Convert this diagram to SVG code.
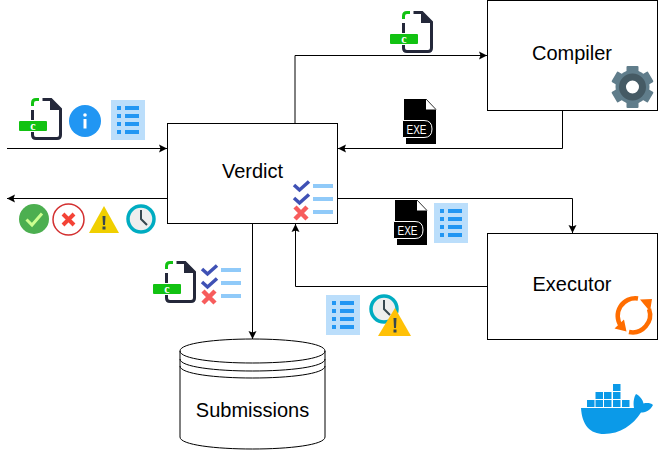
<svg xmlns="http://www.w3.org/2000/svg" width="659" height="450" viewBox="0 0 659 450">
<style>
text{font-family:"Liberation Sans",Arial,sans-serif}
.box{fill:#fff;stroke:#000;stroke-width:1}
.lbl{font-size:20px;text-anchor:middle;fill:#000}
.conn{fill:none;stroke:#000;stroke-width:1;marker-end:url(#arr)}
.cyl{fill:none;stroke:#000;stroke-width:1}
</style>
<defs>
<marker id="arr" markerUnits="userSpaceOnUse" markerWidth="9" markerHeight="9" refX="8" refY="4" orient="auto" overflow="visible"><path d="M8 4L0 0L1.500 4L0 8Z" fill="#000"/></marker>
<g id="cfile">
<path d="M13.500 8V5Q13.500 1.500 17 1.500H20" fill="none" stroke="#12c212" stroke-width="3"/>
<path d="M23.500 1.500H32L41.500 11V37Q41.500 40.500 38 40.500H17Q13.500 40.500 13.500 37V34M13.500 12V22" fill="none" stroke="#24283a" stroke-width="3"/>
<path d="M31 1L42 12H31Z" fill="#24283a"/>
<rect x="0" y="23" width="28" height="10" rx="1" fill="#12c212"/>
<text x="14" y="31.500" font-size="12" font-weight="bold" text-anchor="middle" fill="#fff" style="font-family:'Liberation Serif',serif">c</text>
</g>
<g id="exe">
<path d="M0 0H22V10.500H32V45H2V38H0Z" fill="#000"/>
<path d="M22 0L32 10.500" fill="none" stroke="#333" stroke-width="1"/>
<path d="M-1.500 21.500H20Q28 21.500 28 30Q28 38.500 20 38.500H-1.500Z" fill="#000" stroke="#fff" stroke-width="1"/>
<text x="12.500" y="34.500" font-size="12" text-anchor="middle" fill="#fff" textLength="20" lengthAdjust="spacingAndGlyphs">EXE</text>
</g>
<g id="list">
<rect width="34" height="40" fill="#bbdefb"/>
<path d="M6 6h4v4h-4zM14 6h14v4h-14zM6 14h4v4h-4zM14 14h14v4h-14zM6 22h4v4h-4zM14 22h14v4h-14zM6 30h4v4h-4zM14 30h14v4h-14z" fill="#2196f3"/>
</g>
<g id="verdicts">
<path d="M1 5L6.500 10L16 1.500M1 18L6.500 23L16 14.500" fill="none" stroke="#3f51b5" stroke-width="3.500"/>
<path d="M2 27L14 39M14 27L2 39" fill="none" stroke="#f75c5c" stroke-width="4.500"/>
<path d="M20 4h20v4h-20zM20 17h20v4h-20zM20 30h20v4h-20z" fill="#90caf9"/>
</g>
<g id="clock">
<circle r="13" fill="#eee" stroke="#00acc1" stroke-width="3.500"/>
<path d="M0 -9V0L6 6" fill="none" stroke="#37474f" stroke-width="2"/>
</g>
</defs>

<g id="connectors">
<path class="conn" d="M7 148.500H167"/>
<path class="conn" d="M167 198.500H7"/>
<path class="conn" d="M295 123V55.500H487"/>
<path class="conn" d="M562.500 110V148.500H338"/>
<path class="conn" d="M338 198.500H572.500V233"/>
<path class="conn" d="M487 286.500H295.500V224"/>
<path class="conn" d="M252.500 224V339"/>
</g>

<g id="verdict">
<rect class="box" x="167.500" y="123.500" width="170" height="100"/>
<text class="lbl" x="252.500" y="178">Verdict</text>
<use href="#verdicts" x="293" y="180"/>
</g>

<g id="compiler">
<rect class="box" x="487.500" y="0.500" width="170" height="110"/>
<text class="lbl" x="572" y="60">Compiler</text>
<g id="gear" transform="translate(632.500 87)">
<g fill="#607d8b">
<rect x="-6" y="-21" width="12" height="42" rx="1"/>
<rect x="-6" y="-21" width="12" height="42" rx="1" transform="rotate(60)"/>
<rect x="-6" y="-21" width="12" height="42" rx="1" transform="rotate(120)"/>
<circle r="17"/>
</g>
<circle r="10" fill="#fff" stroke="#455a64" stroke-width="7"/>
</g>
</g>

<g id="executor">
<rect class="box" x="487.500" y="233.500" width="170" height="106"/>
<text class="lbl" x="572" y="291">Executor</text>
<g id="refresh">
<path d="M638 298.500A17.500 17.500 0 0 0 621 326M629 332A17.500 17.500 0 0 0 649 309" fill="none" stroke="#ff6d00" stroke-width="4.500"/>
<path d="M614.500 328.500L626.500 331.500L624 319.500ZM640 299.500L652 299L650 311.500Z" fill="#ff6d00"/>
</g>
</g>

<g id="submissions">
<path class="cyl" d="M180 351C180 335 325 335 325 351V437C325 453 180 453 180 437ZM180 351C180 367 325 367 325 351M180 359C180 375 325 375 325 359M180 366C180 382 325 382 325 366"/>
<text class="lbl" x="252.500" y="417">Submissions</text>
</g>

<g id="input-icons">
<use href="#cfile" x="19" y="98"/>
<circle cx="85" cy="121" r="16" fill="#2196f3"/>
<path d="M83.500 119h3v9.500h-3z" fill="#fff"/>
<circle cx="85" cy="115" r="1.800" fill="#fff"/>
<use href="#list" x="111" y="100"/>
</g>

<g id="output-icons">
<circle cx="34" cy="219" r="15" fill="#4caf50"/>
<path d="M26.500 219.500L32 225L42 213.500" fill="none" stroke="#ccff90" stroke-width="3"/>
<circle cx="68.500" cy="219.500" r="15.500" fill="#fff" stroke="#d32f2f" stroke-width="1.500"/>
<path d="M63 214L74 225M74 214L63 225" fill="none" stroke="#f44336" stroke-width="4"/>
<path d="M104 206L119 233H89Z" fill="#f0cf00"/>
<path d="M102.500 216h3l-.5 9h-2zM102.500 226.500h3v3h-3z" fill="#37474f"/>
<use href="#clock" x="141" y="219"/>
</g>

<g id="compile-request-icon"><use href="#cfile" x="390" y="11"/></g>
<g id="compile-result-icon"><use href="#exe" x="404" y="99"/></g>
<g id="execute-request-icons">
<use href="#exe" x="395" y="200"/>
<use href="#list" x="434" y="203"/>
</g>
<g id="execute-result-icons">
<use href="#list" x="326" y="295"/>
<use href="#clock" x="384" y="309"/>
<path d="M395 308L411 336H378Z" fill="#ffc107"/>
<path d="M393.500 318h3l-.5 10h-2zM393.500 329.500h3v3h-3z" fill="#37474f"/>
</g>
<g id="store-icons">
<use href="#cfile" x="153" y="261"/>
<use href="#verdicts" x="201" y="264"/>
</g>

<g id="docker" fill="#0b9ae8">
<path d="M587 400h7.500v7h-7.500zM595.500 400h7.500v7h-7.500zM604 400h7.500v7h-7.500zM613 400h7.500v7h-7.500zM622 400h7.500v7h-7.500zM595.500 392h7.500v7h-7.500zM604 392h7.500v7h-7.500zM613 392h7.500v7h-7.500zM613 384h7.500v7h-7.500z"/>
<path d="M581 408H634C633 402 634 397 636 394C640 396 643 400 643.500 403.500C647 402.500 651 403 653 405C650 411 645 412.500 641 412.500C633 425 620 434 604 434C590 434 582 425 581 408Z"/>
</g>
</svg>
